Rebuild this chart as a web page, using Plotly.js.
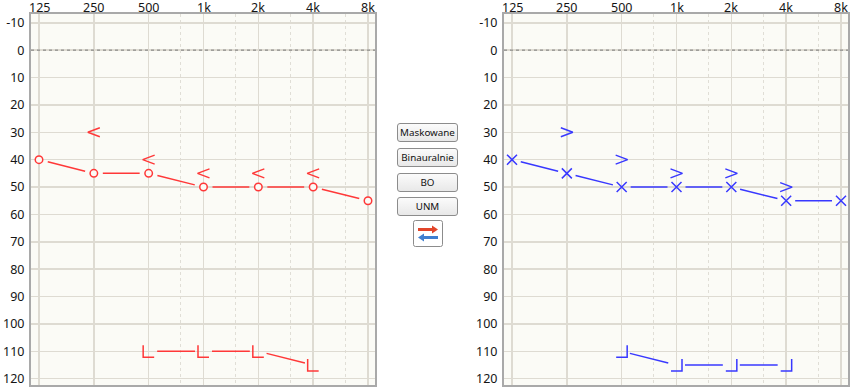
<!DOCTYPE html>
<html>
<head>
<meta charset="utf-8">
<script src="https://cdn.plot.ly/plotly-3.0.1.min.js"></script>
<style>
  html, body { margin: 0; padding: 0; background: #ffffff; }
  #wrap { position: relative; width: 853px; height: 389px; }
  #chart { position: absolute; left: 0; top: 0; width: 853px; height: 389px; }
  .btn {
    position: absolute; left: 397px; width: 59px; height: 17px;
    border: 1px solid #8c8c8c; border-radius: 3px;
    background: linear-gradient(#fbfbfb, #e8e8e8);
    font-family: "Noto Sans", sans-serif; font-size: 9.8px; color: #111;
    text-align: center; line-height: 17px; box-sizing: content-box;
  }
  #icon { position: absolute; left: 413px; top: 220px; }
</style>
</head>
<body>
<div id="wrap">
  <div id="chart"></div>
  <div class="btn" style="top:123px">Maskowane</div>
  <div class="btn" style="top:148px">Binauralnie</div>
  <div class="btn" style="top:173px">BO</div>
  <div class="btn" style="top:197px">UNM</div>
  <svg id="icon" width="30" height="27" viewBox="0 0 30 27">
    <rect x="0.5" y="0.5" width="29" height="26" rx="2" fill="#ffffff" stroke="#8c8c8c"/>
    <path d="M5 8 L19 8 L19 5.5 L25 9.5 L19 13.5 L19 11 L5 11 Z" fill="#e2452a"/>
    <path d="M25 16 L11 16 L11 13.5 L5 17.5 L11 21.5 L11 19 L25 19 Z" fill="#3f7fd0"/>
  </svg>
</div>
<script>
// ---------- data ----------
const freqs = [125, 250, 500, 1000, 2000, 4000, 8000];
const freqLabels = ['125', '250', '500', '1k', '2k', '4k', '8k'];
const minorFreqs = [750, 1500, 3000, 6000];
const dbTicks = [-10, 0, 10, 20, 30, 40, 50, 60, 70, 80, 90, 100, 110, 120];
const dbLabels = ['-10', '0', '10', '20', '30', '40', '50', '60', '70', '80', '90', '100', '110', '120'];

// right ear (red, left panel)
const redAC = [40, 45, 45, 50, 50, 50, 55];
const redBCFreqs = [250, 500, 1000, 2000, 4000];
const redBC = [30, 40, 45, 45, 45];
const redLFreqs = [500, 1000, 2000, 4000];
const redL = [110, 110, 110, 115];

// left ear (blue, right panel)
const blueAC = [40, 45, 50, 50, 50, 55, 55];
const blueBCFreqs = [250, 500, 1000, 2000, 4000];
const blueBC = [30, 40, 45, 45, 50];
const blueLFreqs = [500, 1000, 2000, 4000];
const blueL = [110, 115, 115, 115];

// ---------- geometry ----------
const W = 853, H = 389;
const plotW = 344, plotH = 371;
const xDomL = [31 / W, 375 / W];
const xDomR = [504 / W, 848 / W];
const yDom = [1 - 385 / H, 1 - 14 / H];
const L2 = Math.log10(2);
const xRange = [Math.log10(125) - (8 / 54.83) * L2, Math.log10(8000) + (7 / 54.83) * L2];
const yRange = [122.3, -13.2];
const kx = plotW / (xRange[1] - xRange[0]);   // px per log10 unit
const ky = plotH / (yRange[0] - yRange[1]);   // px per dB (down)

const RED = '#ff3838';
const BLUE = '#3838ff';
const BG = '#fbfbf6';

function toPx(f, db) { return [Math.log10(f) * kx, db * ky]; }
function fromPx(p) { return [Math.pow(10, p[0] / kx), p[1] / ky]; }

// connecting lines with a gap around each marker
function gapLines(fs, dbs, gap) {
  const x = [], y = [];
  for (let i = 0; i < fs.length - 1; i++) {
    const a = toPx(fs[i], dbs[i]), b = toPx(fs[i + 1], dbs[i + 1]);
    const dx = b[0] - a[0], dy = b[1] - a[1];
    const len = Math.hypot(dx, dy);
    const ux = dx / len, uy = dy / len;
    const p1 = fromPx([a[0] + ux * gap, a[1] + uy * gap]);
    const p2 = fromPx([b[0] - ux * gap, b[1] - uy * gap]);
    x.push(p1[0], p2[0], null); y.push(p1[1], p2[1], null);
  }
  return { x, y };
}

// glyph polylines defined by pixel offsets around each data point
function glyphs(fs, dbs, offsets) {
  const x = [], y = [];
  for (let i = 0; i < fs.length; i++) {
    const c = toPx(fs[i], dbs[i]);
    offsets.forEach(o => {
      const p = fromPx([c[0] + o[0], c[1] + o[1]]);
      x.push(p[0]); y.push(p[1]);
    });
    x.push(null); y.push(null);
  }
  return { x, y };
}

const chevLeft = [[6, -4.5], [-6, 0], [6, 4.5]];
const chevRight = [[-6, -4.5], [6, 0], [-6, 4.5]];
const cornerL = [[-5.5, -6], [-5.5, 6], [5.5, 6]];
const cornerJ = [[-5.5, 6], [5.5, 6], [5.5, -6]];

function lineTrace(d, color, xa, ya, width) {
  return { x: d.x, y: d.y, xaxis: xa, yaxis: ya, mode: 'lines', type: 'scatter',
    line: { color: color, width: width || 1.5 }, hoverinfo: 'skip', showlegend: false };
}

const traces = [];
// left panel (red)
traces.push(lineTrace(gapLines(freqs, redAC, 9), RED, 'x', 'y'));
traces.push({ x: freqs, y: redAC, xaxis: 'x', yaxis: 'y', mode: 'markers', type: 'scatter',
  marker: { symbol: 'circle', size: 7.5, color: BG, line: { color: RED, width: 1.5 } }, showlegend: false });
traces.push(lineTrace(glyphs(redBCFreqs, redBC, chevLeft), RED, 'x', 'y', 1.4));
traces.push(lineTrace(gapLines(redLFreqs, redL, 8.5), RED, 'x', 'y'));
traces.push(lineTrace(glyphs(redLFreqs, redL, cornerL), RED, 'x', 'y', 1.5));
// right panel (blue)
traces.push(lineTrace(gapLines(freqs, blueAC, 9), BLUE, 'x2', 'y2'));
traces.push({ x: freqs, y: blueAC, xaxis: 'x2', yaxis: 'y2', mode: 'markers', type: 'scatter',
  marker: { symbol: 'x-thin', size: 10, color: BLUE, line: { color: BLUE, width: 1.5 } }, showlegend: false });
traces.push(lineTrace(glyphs(blueBCFreqs, blueBC, chevRight), BLUE, 'x2', 'y2', 1.4));
traces.push(lineTrace(gapLines(blueLFreqs, blueL, 8.5), BLUE, 'x2', 'y2'));
traces.push(lineTrace(glyphs(blueLFreqs, blueL, cornerJ), BLUE, 'x2', 'y2', 1.5));

const tickFont = { family: 'Noto Sans, sans-serif', size: 12.5, color: '#151515' };
function xAxis(dom, anchor) {
  return {
    type: 'log', domain: dom, range: xRange, anchor: anchor, side: 'top',
    tickmode: 'array', tickvals: freqs, ticktext: freqLabels, ticks: '',
    showticklabels: false,
    showgrid: true, gridcolor: '#dedbd2', gridwidth: 1.5,
    minor: { tickvals: minorFreqs, showgrid: true, gridcolor: '#e0ded6', gridwidth: 1, griddash: 'dot', ticks: '' },
    showline: true, mirror: true, linecolor: '#a9a9a9', linewidth: 2,
    zeroline: false, fixedrange: true
  };
}
function yAxis(anchor) {
  return {
    domain: yDom, range: yRange, anchor: anchor,
    tickmode: 'array', tickvals: dbTicks, ticktext: dbLabels, ticks: '',
    showgrid: true, gridcolor: '#dedbd2', gridwidth: 1.5,
    showline: true, mirror: true, linecolor: '#a9a9a9', linewidth: 2,
    zeroline: false, tickfont: tickFont, ticklabelstandoff: 2, fixedrange: true
  };
}

// frequency labels along the top of each panel
const annotations = [];
['x', 'x2'].forEach(xr => {
  freqs.forEach((f, i) => {
    annotations.push({ x: Math.log10(f), xref: xr, y: 1 - 7.5 / H, yref: 'paper',
      text: freqLabels[i], showarrow: false, xanchor: 'center', yanchor: 'middle',
      font: tickFont });
  });
});

const layout = {
  width: W, height: H,
  margin: { l: 0, r: 0, t: 0, b: 0 },
  paper_bgcolor: '#ffffff', plot_bgcolor: BG,
  showlegend: false,
  xaxis: xAxis(xDomL, 'y'),
  yaxis: yAxis('x'),
  xaxis2: xAxis(xDomR, 'y2'),
  yaxis2: yAxis('x2'),
  annotations: annotations,
  shapes: [
    { type: 'line', xref: 'x domain', yref: 'y', x0: 0, x1: 1, y0: 0, y1: 0,
      line: { color: '#7a7a7a', width: 1, dash: 'dot' }, layer: 'above' },
    { type: 'line', xref: 'x2 domain', yref: 'y2', x0: 0, x1: 1, y0: 0, y1: 0,
      line: { color: '#7a7a7a', width: 1, dash: 'dot' }, layer: 'above' }
  ]
};

Plotly.newPlot('chart', traces, layout, { staticPlot: true, displayModeBar: false });
</script>
</body>
</html>
